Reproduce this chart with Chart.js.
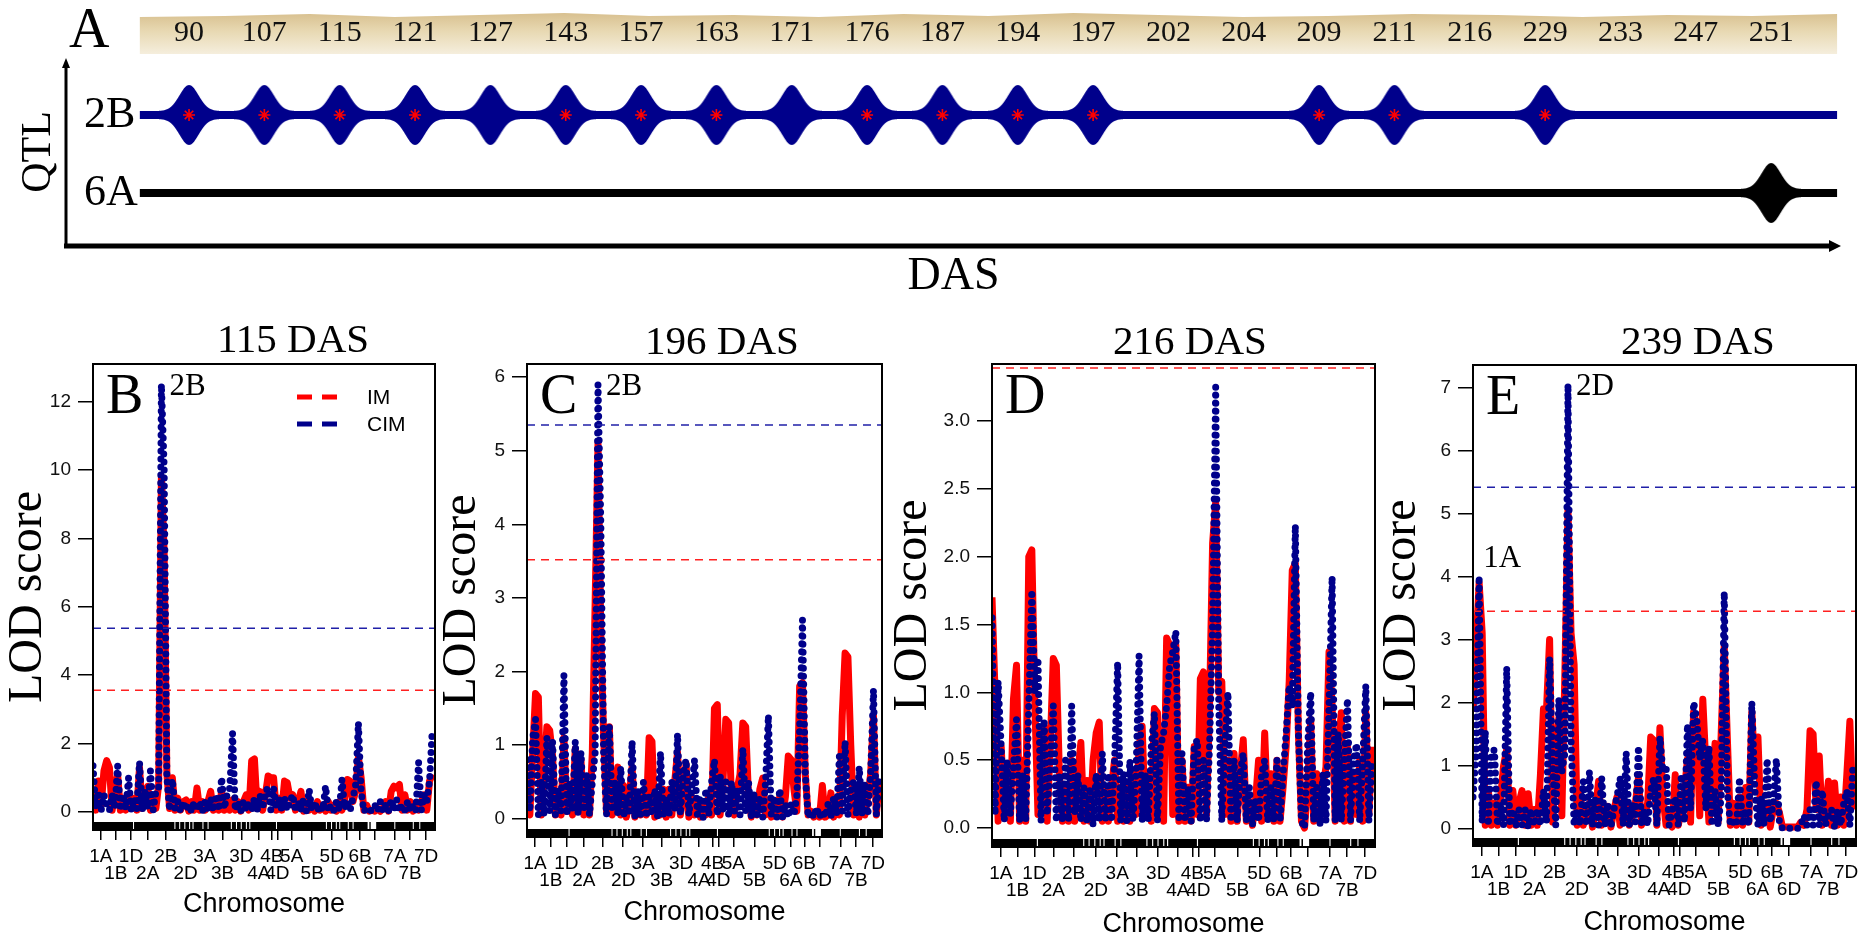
<!DOCTYPE html>
<html>
<head>
<meta charset="utf-8">
<title>QTL for 2B and 6A across DAS, with LOD profiles</title>
<script src="https://cdn.jsdelivr.net/npm/chart.js@4.4.1/dist/chart.umd.min.js"></script>
<style>
  html, body { margin: 0; padding: 0; background: #fff; overflow: hidden; }
  body { width: 1872px; height: 938px; position: relative; }
  canvas { position: absolute; }
</style>
</head>
<body>
<canvas id="panelA" width="1872" height="300" style="left:0px;top:0px"></canvas>
<canvas id="panelB" width="586" height="638" style="left:0px;top:300px"></canvas>
<canvas id="panelC" width="576" height="638" style="left:434px;top:300px"></canvas>
<canvas id="panelD" width="612" height="638" style="left:884px;top:300px"></canvas>
<canvas id="panelE" width="650" height="638" style="left:1373px;top:300px"></canvas>
<script>
const serif = '"Liberation Serif", "Times New Roman", serif';
const sans = '"Liberation Sans", Arial, sans-serif';

// panel A: days after sowing, and where each QTL was picked up
const dasLabels = [90, 107, 115, 121, 127, 143, 157, 163, 171, 176, 187, 194, 197, 202, 204, 209, 211, 216, 229, 233, 247, 251];
const qtl2B  = [1,1,1,1,1,1,1,1,1,1,1,1,1,0,0,1,1,0,1,0,0,0];
const star2B = [1,1,1,1,0,1,1,1,0,1,1,1,1,0,0,1,1,0,1,0,0,0];
const qtl6A  = [0,0,0,0,0,0,0,0,0,0,0,0,0,0,0,0,0,0,0,0,0,1];
const trackStart = -0.653;
const trackEnd = 21.875;

// chromosome axis of the LOD plots (genome position 0-1000)
const chromNames = ['1A','1B','1D','2A','2B','2D','3A','3B','3D','4A','4B','4D','5A','5B','5D','6A','6B','6D','7A','7B','7D'];
const chromMid = [23, 67, 111, 160, 213, 271, 327, 379, 434, 485, 523, 539, 581, 641, 698, 743, 781, 825, 883, 927, 974];
const markerPos = [0,8,16,24,32,40,48,56,64,72,80,88,96,104,112,120,128,136,144,152,160,168,176,184,192,200,208,216,224,232,
  240,248,256,264,272,280,288,296,304,312,320,328,336,344,352,360,368,376,384,392,400,408,416,424,432,440,448,456,464,472,
  480,488,496,504,512,520,528,536,544,552,560,568,576,584,592,600,608,616,624,632,640,648,656,664,672,680,688,696,704,712,
  720,728,736,744,752,760,768,776,784,792,800,808,816,824,832,840,848,856,864,872,880,888,896,904,912,920,928,936,944,952,
  960,968,976,984,992];
// white gaps in the marker rug
const rugGaps = [[117,120],[238,241],[252,255],[267,270],[281,284],[291,294],[320,323],[335,338],[403,406],[418,421],
  [432,435],[447,450],[457,460],[535,538],[681,684],[696,699],[710,713],[720,723],[745,748],[759,762],[803,808],[812,828],
  [881,884],[935,938],[954,957]];

// LOD scores, IM and CIM, one array per panel (one value per marker position)
const imB = [0.5,0.05,0.9,0.2,1.2,1.5,1.3,0.05,0.6,1.1, 0.05,0.4,0.05,0.5,0.1,0.4,0.05,1.3,0.1,0.5,
  0.75,0.05,0.4,0.1,0.8,9.8,7.6,1.1,0.1,1.0, 0.05,0.4,0.05,0.3,0.35,0.02,0.3,0.05,0.7,0.05,
  0.3,0.05,0.3,0.6,0.05,0.3,0.05,0.6,0.05,0.3, 0.05,0.35,0.05,0.3,0.02,0.3,0.5,0.05,1.5,1.55,
  0.1,0.6,0.05,0.5,1.05,1.0,1.0,0.05,0.4,0.05, 0.9,0.85,0.4,0.5,0.05,0.3,0.6,0.02,0.3,0.05,
  0.2,0.02,0.3,0.05,0.2,0.02,0.3,0.05,0.2,0.02, 0.3,0.05,0.35,0.95,0.9,0.3,0.6,1.6,1.0,0.05,
  0.2,0.02,0.05,0.02,0.1,0.02,0.1,0.3,0.02,0.6, 0.75,0.7,0.8,0.05,0.5,0.05,0.3,0.02,0.2,0.05,
  0.3,0.5,0.05,0.9,1.1];
const cimB = [1.35,0.1,0.6,0.05,0.5,0.2,0.05,0.5,0.1,1.35, 0.05,0.5,0.1,1.0,0.05,0.4,0.1,1.45,0.05,0.6,
  0.1,1.2,0.05,0.6,0.7,12.5,10.1,1.0,0.05,0.95, 0.1,0.3,0.02,0.3,0.05,0.2,0.02,0.3,0.05,0.3,
  0.02,0.3,0.05,0.4,0.02,0.5,0.05,1.0,0.1,0.5, 0.7,2.3,0.05,0.3,0.02,0.3,0.05,0.3,0.02,0.4,
  0.05,0.5,0.1,0.6,0.7,0.05,0.7,0.1,0.4,0.05, 0.4,0.05,0.3,0.5,0.02,0.3,0.05,0.4,0.02,0.65,
  0.05,0.3,0.02,0.2,0.05,0.75,0.02,0.2,0.05,0.3, 0.05,0.95,0.1,0.3,0.05,0.4,0.8,2.6,0.6,0.02,
  0.1,0.02,0.05,0.2,0.02,0.3,0.02,0.2,0.02,0.35, 0.05,0.35,0.02,0.2,0.05,0.3,0.02,0.2,0.05,1.45,
  0.05,0.5,0.3,0.9,2.4];
const imC = [0.5,0.05,0.9,1.7,1.65,0.05,0.6,1.25,1.2,0.85, 0.05,0.3,0.05,1.1,0.1,0.4,0.05,0.95,0.1,0.8,
  0.05,0.5,0.05,0.9,2.95,5.1,2.5,1.1,0.1,1.25, 0.05,0.4,0.7,0.05,0.45,0.02,0.3,0.7,0.02,0.3,
  0.05,0.3,0.05,1.1,1.05,0.02,0.3,0.05,0.4,0.02, 0.4,0.05,0.5,0.9,0.05,0.3,0.75,0.02,0.3,0.05,
  0.2,0.02,0.2,0.05,0.3,0.05,1.5,1.55,0.05,0.5, 1.35,1.3,0.3,0.05,0.4,0.6,1.3,1.25,0.3,0.02,
  0.3,0.05,0.4,0.55,0.05,0.2,0.02,0.25,0.05,0.3, 0.02,0.3,0.85,0.8,0.4,0.1,1.8,1.85,0.6,0.05,
  0.1,0.02,0.1,0.02,0.45,0.02,0.05,0.35,0.02,0.2, 0.05,1.4,2.25,2.2,1.0,0.05,0.3,0.02,0.4,0.05,
  0.3,0.6,1.4,0.05,0.5];
const cimC = [0.8,0.1,1.1,1.35,0.05,0.5,0.05,1.1,0.1,1.05, 0.05,0.4,0.1,1.95,0.05,0.5,0.1,1.05,0.05,0.9,
  0.1,0.6,0.05,0.5,0.9,5.9,4.0,0.8,0.05,1.25, 0.1,0.5,0.05,0.7,0.02,0.3,0.05,1.05,0.02,0.4,
  0.05,0.5,0.02,0.3,0.05,0.4,0.02,0.9,0.05,0.3, 0.05,0.5,0.1,1.15,0.05,0.6,0.8,0.05,0.4,0.8,
  0.05,0.3,0.02,0.4,0.05,0.5,0.8,0.05,0.6,0.1, 0.5,0.05,0.5,0.1,0.4,0.05,0.95,0.1,0.5,0.02,
  0.35,0.05,0.3,0.02,0.5,1.4,0.05,0.3,0.02,0.4, 0.02,0.2,0.02,0.2,0.05,0.3,1.2,2.7,0.6,0.02,
  0.1,0.02,0.15,0.02,0.1,0.02,0.2,0.02,0.3,0.05, 0.85,0.1,1.05,0.05,0.4,0.5,0.05,0.7,0.05,0.5,
  0.05,0.6,1.75,0.05,0.6];
const imD = [1.7,1.0,0.05,0.6,0.1,0.4,0.05,0.95,1.2,0.05, 0.5,0.05,2.0,2.05,0.9,0.1,0.7,0.75,0.05,0.6,
  1.25,1.2,0.4,0.05,0.3,0.05,0.5,0.05,0.4,0.63, 0.05,0.35,0.05,0.5,0.7,0.78,0.05,0.3,0.05,0.3,
  0.5,0.05,0.3,0.05,0.3,0.05,0.4,0.1,0.6,0.75, 0.1,0.4,0.05,0.88,0.85,0.3,0.05,1.4,1.35,0.1,
  1.35,0.05,0.5,0.05,0.3,0.05,0.6,0.1,1.1,1.15, 0.1,0.9,2.1,2.4,1.0,1.08,0.1,0.5,0.05,0.55,
  0.05,0.4,0.65,0.05,0.2,0.02,0.2,0.5,0.05,0.7, 0.1,0.4,0.05,0.5,0.05,0.3,0.6,1.08,1.9,1.95,
  0.7,0.05,0.0,0.3,0.8,0.05,0.4,0.05,0.3,0.45, 1.3,0.9,0.05,0.6,0.85,0.05,0.6,0.05,0.4,0.1,
  0.5,0.05,0.85,0.1,0.6];
const cimD = [1.55,0.1,1.08,0.6,0.05,0.5,0.1,0.45,0.8,0.05, 0.4,0.05,0.9,1.75,1.0,1.25,0.05,0.8,0.1,0.5,
  0.9,0.05,0.4,0.05,0.5,0.05,0.9,0.1,0.4,0.05, 0.3,0.05,0.3,0.02,0.4,0.05,0.55,0.05,0.4,0.05,
  0.5,1.22,0.05,0.4,0.05,0.5,0.05,0.4,1.27,0.05, 0.4,0.05,0.6,0.85,0.05,0.6,0.7,0.9,1.2,1.3,
  1.45,0.05,0.55,0.05,0.3,0.05,0.6,0.65,0.05,0.5, 0.05,0.6,1.5,3.25,0.9,0.05,0.6,1.0,0.05,0.5,
  0.05,0.4,0.55,0.05,0.3,0.02,0.2,0.05,0.4,0.5, 0.05,0.3,0.05,0.5,0.05,0.4,0.7,1.05,0.9,2.23,
  0.7,0.05,0.0,0.6,1.0,0.05,0.3,0.02,0.4,0.05, 0.9,1.85,0.05,0.7,0.05,0.5,0.95,0.05,0.5,0.62,
  0.05,0.5,1.05,0.05,0.5];
const imE = [1.85,2.9,3.9,3.1,0.05,0.6,0.05,0.4,0.05,0.5, 1.0,1.25,0.05,0.6,0.05,0.4,0.6,0.05,0.55,0.05,
  0.3,0.05,0.85,1.9,1.9,3.0,0.1,1.2,1.75,0.2, 2.5,5.05,3.1,2.6,0.05,0.6,0.05,0.3,0.4,0.02,
  0.3,0.75,0.05,0.2,0.35,0.02,0.3,0.5,0.05,0.2, 0.4,0.05,0.2,0.4,0.8,0.05,0.2,0.4,1.45,1.4,
  0.05,1.6,0.5,0.05,0.2,0.02,0.85,0.05,0.3,0.6, 1.1,0.1,1.85,1.6,0.2,2.05,1.0,0.1,0.5,1.35,
  0.1,1.5,2.9,1.45,0.05,0.4,0.05,0.5,0.05,0.65, 0.1,1.85,0.9,1.45,0.05,0.3,0.4,0.02,0.3,0.4,
  0.25,0.02,0.02,0.02,0.02,0.02,0.02,0.1,0.05,0.3, 1.55,1.5,0.3,1.15,0.05,0.3,0.75,0.05,0.72,0.05,
  0.5,0.05,0.85,1.7,0.3];
const cimE = [0.5,1.2,4.0,0.1,1.55,0.05,1.2,1.25,0.05,0.4, 0.05,2.55,0.05,0.3,0.02,0.3,0.05,0.3,0.02,0.3,
  0.05,0.3,0.05,0.6,0.1,2.7,1.0,0.05,2.05,0.9, 1.2,7.05,1.4,0.05,0.3,0.05,0.75,0.05,0.9,0.05,
  0.5,0.05,0.8,0.05,0.4,0.02,0.3,0.5,0.8,0.05, 1.2,0.05,0.4,0.1,1.3,0.05,0.3,0.05,0.6,0.8,
  0.05,1.45,0.9,1.0,0.05,0.3,0.5,0.05,0.85,0.1, 1.65,0.3,2.0,1.75,1.1,1.4,0.3,1.3,0.05,0.6,
  0.05,0.5,3.75,0.6,0.05,0.1,0.05,0.8,0.05,0.3, 0.05,2.0,0.6,0.05,0.5,0.05,1.1,0.1,0.4,1.1,
  0.1,0.0,0.0,0.0,0.0,0.0,0.0,0.05,0.2,0.05, 0.3,0.05,0.75,0.05,0.6,0.05,0.2,0.3,0.02,0.3,
  0.05,0.4,0.6,0.05,1.0];

const panelTitles = ['115 DAS', '196 DAS', '216 DAS', '239 DAS'];
const panelLetters = ['B', 'C', 'D', 'E'];
const thresholdIM = [3.56, 3.52, 3.39, 3.45];
const thresholdCIM = [5.37, 5.35, null, 5.42];
const peakTags = [
  [{text: '2B', x: 200, y: 12.5, side: 'right'}],
  [{text: '2B', x: 200, y: 5.9, side: 'right'}],
  [],
  [{text: '2D', x: 248, y: 7.05, side: 'right'}, {text: '1A', x: 16, y: 4.0, side: 'above'}]
];

const IM_RED = '#ff0000';
const CIM_BLUE = '#00008b';

// frame, panel letter, peak labels and the small IM/CIM key
const panelDeco = {
  id: 'panelDeco',
  afterDraw(chart, args, opts) {
    const {ctx, chartArea: a} = chart;
    const xs = chart.scales.x, ys = chart.scales.y;
    ctx.save();
    ctx.strokeStyle = '#000';
    ctx.lineWidth = 2;
    ctx.strokeRect(a.left, a.top, a.right - a.left, a.bottom - a.top);
    ctx.fillStyle = '#000';
    ctx.textAlign = 'left';
    ctx.textBaseline = 'alphabetic';
    ctx.font = '56px ' + serif;
    ctx.fillText(opts.letter, a.left + 13, a.top + 49);
    ctx.font = '31px ' + serif;
    ctx.textBaseline = 'middle';
    (opts.tags || []).forEach(t => {
      const px = xs.getPixelForValue(t.x), py = ys.getPixelForValue(t.y);
      if (t.side === 'above') ctx.fillText(t.text, px + 4, py - 18);
      else ctx.fillText(t.text, px + 8, py + 2);
    });
    if (opts.legend) {
      const keys = chart.data.datasets.filter(d => d.label === 'IM' || d.label === 'CIM');
      ctx.font = '21px ' + sans;
      keys.forEach((d, k) => {
        const yy = a.top + 33 + k * 27, x0 = a.right - 138;
        ctx.strokeStyle = d.borderColor;
        ctx.lineWidth = 5;
        ctx.setLineDash([15, 10]);
        ctx.beginPath();
        ctx.moveTo(x0, yy);
        ctx.lineTo(x0 + 40, yy);
        ctx.stroke();
        ctx.setLineDash([]);
        ctx.fillText(d.label, x0 + 70, yy + 1);
      });
    }
    ctx.restore();
  }
};

function rugPoints(level) {
  const pts = [{x: 0, y: level}];
  rugGaps.forEach(([a, b]) => {
    pts.push({x: a, y: level}, {x: (a + b) / 2, y: null}, {x: b, y: level});
  });
  pts.push({x: 1000, y: level});
  return pts;
}

const panelLayout = [
  {canvas: 'panelB', yAxisW: 93,  padR: 151, titleTop: 21, titleBottom: 2, xAxisH: 108, xTitlePad: 20, yTitlePad: 4, yMin: -0.53, yMax: 13.1, yTicks: [0,2,4,6,8,10,12], decimals: 0},
  {canvas: 'panelC', yAxisW: 93,  padR: 128, titleTop: 23, titleBottom: 0, xAxisH: 101, xTitlePad: 12, yTitlePad: 4, yMin: -0.25, yMax: 6.18, yTicks: [0,1,2,3,4,5,6], decimals: 0},
  {canvas: 'panelD', yAxisW: 108, padR: 121, titleTop: 23, titleBottom: 0, xAxisH: 91,  xTitlePad: 0,  yTitlePad: 5, yMin: -0.14, yMax: 3.42, yTicks: [0,0.5,1,1.5,2,2.5,3], decimals: 1},
  {canvas: 'panelE', yAxisW: 100, padR: 167, titleTop: 23, titleBottom: 1, xAxisH: 92,  xTitlePad: 2,  yTitlePad: 5, yMin: -0.28, yMax: 7.36, yTicks: [0,1,2,3,4,5,6,7], decimals: 0}
];
const imSeries = [imB, imC, imD, imE];
const cimSeries = [cimB, cimC, cimD, cimE];

panelLayout.forEach((L, p) => {
  const toPts = vals => markerPos.map((x, i) => ({x: x, y: vals[i]}));
  const datasets = [
    {label: 'rug', data: rugPoints(L.yMin), borderColor: '#000', borderWidth: 16, borderCapStyle: 'butt',
     pointRadius: 0, spanGaps: false, clip: 0, order: 5},
    {label: 'IM', data: toPts(imSeries[p]), borderColor: IM_RED, borderWidth: 7, pointRadius: 0,
     borderJoinStyle: 'round', order: 4},
    {label: 'CIM', data: toPts(cimSeries[p]), borderColor: CIM_BLUE, borderWidth: 7, borderDash: [0, 8],
     borderCapStyle: 'round', pointRadius: 0, order: 3}
  ];
  if (thresholdCIM[p] !== null) {
    datasets.push({label: 'CIM threshold', data: [{x: 0, y: thresholdCIM[p]}, {x: 1000, y: thresholdCIM[p]}],
      borderColor: '#2020a8', borderWidth: 1.5, borderDash: [8, 6], pointRadius: 0, order: 1});
  }
  datasets.push({label: 'IM threshold', data: [{x: 0, y: thresholdIM[p]}, {x: 1000, y: thresholdIM[p]}],
    borderColor: '#ff2020', borderWidth: 1.5, borderDash: [8, 6], pointRadius: 0, order: 1});

  new Chart(document.getElementById(L.canvas), {
    type: 'line',
    data: {datasets: datasets},
    plugins: [panelDeco],
    options: {
      responsive: false,
      animation: false,
      events: [],
      layout: {padding: 0},
      plugins: {
        legend: {display: false},
        tooltip: {enabled: false},
        title: {display: true, text: panelTitles[p], color: '#000',
          font: {family: serif, size: 41, weight: 'normal', lineHeight: 1},
          padding: {top: L.titleTop, bottom: L.titleBottom}},
        panelDeco: {letter: panelLetters[p], tags: peakTags[p], legend: p === 0}
      },
      scales: {
        x: {
          type: 'linear', min: 0, max: 1000,
          afterFit: s => { s.height = L.xAxisH; },
          afterBuildTicks: s => { s.ticks = chromMid.map(v => ({value: v})); },
          ticks: {autoSkip: false, maxRotation: 0, minRotation: 0, padding: 8, color: '#000',
            font: {family: sans, size: 19, lineHeight: 0.9},
            callback: (v, i) => (i % 2 ? ['', chromNames[i]] : chromNames[i])},
          grid: {drawOnChartArea: false, drawTicks: true, tickLength: 10, color: '#000', lineWidth: 1.5},
          border: {display: false},
          title: {display: true, text: 'Chromosome', color: '#000',
            font: {family: sans, size: 27, lineHeight: 1}, padding: {top: 0, bottom: L.xTitlePad}}
        },
        y: {
          type: 'linear', min: L.yMin, max: L.yMax,
          afterFit: s => { s.width = L.yAxisW; },
          afterBuildTicks: s => { s.ticks = L.yTicks.map(v => ({value: v})); },
          ticks: {padding: 7, color: '#111', font: {family: sans, size: 19},
            callback: v => v.toFixed(L.decimals)},
          grid: {drawOnChartArea: false, drawTicks: true, tickLength: 15, color: '#000', lineWidth: 1.5},
          border: {display: false},
          title: {display: true, text: 'LOD score', color: '#000',
            font: {family: serif, size: 48, lineHeight: 1}, padding: {top: L.yTitlePad, bottom: 0}}
        },
        // empty right-hand spacer so the panel title centres where the original one sits
        spacer: {
          type: 'linear', position: 'right', display: true,
          afterFit: s => { s.width = L.padR; },
          ticks: {display: false}, grid: {display: false}, border: {display: false}
        }
      }
    }
  });
});

// ---------- panel A ----------
function spindle(color) {
  const c = document.createElement('canvas');
  c.width = 60; c.height = 64;
  const g = c.getContext('2d');
  const cx = 30, cy = 32, h = 30, s = 9.5, half = 4;
  g.fillStyle = color;
  g.beginPath();
  for (let px = 0; px <= 60; px++) {
    const dx = px - cx;
    g.lineTo(px, cy - half - (h - half) * Math.exp(-dx * dx / (2 * s * s)));
  }
  for (let px = 60; px >= 0; px--) {
    const dx = px - cx;
    g.lineTo(px, cy + half + (h - half) * Math.exp(-dx * dx / (2 * s * s)));
  }
  g.closePath();
  g.fill();
  return c;
}

const dasBand = {
  id: 'dasBand',
  beforeDraw(chart) {
    const {ctx, chartArea: a} = chart;
    const xs = chart.scales.x;
    const left = xs.getPixelForValue(trackStart), right = xs.getPixelForValue(trackEnd);
    const top = a.top - 45, bottom = a.top - 4;
    ctx.save();
    const grad = ctx.createLinearGradient(0, top, 0, bottom);
    grad.addColorStop(0, '#d8c08f');
    grad.addColorStop(0.45, '#e8d9b3');
    grad.addColorStop(1, '#f5eedd');
    ctx.fillStyle = grad;
    ctx.beginPath();
    ctx.moveTo(left, bottom);
    ctx.lineTo(left, top + 4);
    const wave = [3, 1, 4, 2, 0, 3, 2, 4, 1, 3, 0, 2, 4, 3, 1, 2, 4, 2, 3, 1];
    wave.forEach((w, k) => ctx.lineTo(left + (right - left) * (k + 1) / wave.length, top + w));
    ctx.lineTo(right, bottom);
    ctx.closePath();
    ctx.fill();
    ctx.restore();
  },
  afterDraw(chart) {
    const {ctx, chartArea: a} = chart;
    ctx.save();
    ctx.strokeStyle = '#000';
    ctx.fillStyle = '#000';
    // y axis with arrow
    ctx.lineWidth = 3;
    ctx.beginPath();
    ctx.moveTo(a.left, a.bottom + 2);
    ctx.lineTo(a.left, a.top + 6);
    ctx.stroke();
    ctx.beginPath();
    ctx.moveTo(a.left, a.top);
    ctx.lineTo(a.left - 4, a.top + 10);
    ctx.lineTo(a.left + 4, a.top + 10);
    ctx.closePath();
    ctx.fill();
    // x axis with arrow
    ctx.lineWidth = 5;
    ctx.beginPath();
    ctx.moveTo(a.left - 2, a.bottom);
    ctx.lineTo(a.right - 8, a.bottom);
    ctx.stroke();
    ctx.beginPath();
    ctx.moveTo(a.right, a.bottom);
    ctx.lineTo(a.right - 12, a.bottom - 6);
    ctx.lineTo(a.right - 12, a.bottom + 6);
    ctx.closePath();
    ctx.fill();
    // panel letter
    ctx.font = '56px ' + serif;
    ctx.textBaseline = 'alphabetic';
    ctx.fillText('A', a.left + 3, a.top - 11);
    ctx.restore();
  }
};

const spindle2B = spindle(CIM_BLUE);
const spindle6A = spindle('#000');

new Chart(document.getElementById('panelA'), {
  type: 'line',
  data: {
    datasets: [
      {label: 'significant', data: dasLabels.map((d, i) => (star2B[i] ? {x: i, y: 2} : null)).filter(Boolean),
        showLine: false, pointStyle: 'star', pointRadius: 6, pointBorderWidth: 1.6,
        pointBorderColor: IM_RED, borderColor: IM_RED, order: 1},
      {label: '2B QTL', data: dasLabels.map((d, i) => (qtl2B[i] ? {x: i, y: 2} : null)).filter(Boolean),
        showLine: false, pointStyle: spindle2B, pointRadius: 30, order: 2},
      {label: '6A QTL', data: dasLabels.map((d, i) => (qtl6A[i] ? {x: i, y: 1} : null)).filter(Boolean),
        showLine: false, pointStyle: spindle6A, pointRadius: 30, order: 2},
      {label: '2B', data: [{x: trackStart, y: 2}, {x: trackEnd, y: 2}], borderColor: CIM_BLUE,
        borderWidth: 8, pointRadius: 0, borderCapStyle: 'butt', order: 3},
      {label: '6A', data: [{x: trackStart, y: 1}, {x: trackEnd, y: 1}], borderColor: '#000',
        borderWidth: 8, pointRadius: 0, borderCapStyle: 'butt', order: 3}
    ]
  },
  plugins: [dasBand],
  options: {
    responsive: false,
    animation: false,
    events: [],
    layout: {padding: {left: 0, right: 2, top: 0, bottom: 0}},
    plugins: {legend: {display: false}, tooltip: {enabled: false}},
    scales: {
      x: {
        type: 'linear', position: 'bottom', min: -1.633, max: 21.927,
        afterFit: s => { s.height = 54; },
        ticks: {display: false},
        grid: {display: false},
        border: {display: false},
        title: {display: true, text: 'DAS', color: '#000',
          font: {family: serif, size: 46, lineHeight: 1}, padding: {top: 0, bottom: 0}}
      },
      xTop: {
        type: 'linear', position: 'top', min: -1.633, max: 21.927,
        afterFit: s => { s.height = 58; },
        afterBuildTicks: s => { s.ticks = dasLabels.map((d, i) => ({value: i})); },
        ticks: {autoSkip: false, maxRotation: 0, minRotation: 0, padding: 7, color: '#111',
          font: {family: serif, size: 30}, callback: (v, i) => String(dasLabels[i])},
        grid: {display: false, drawTicks: false},
        border: {display: false}
      },
      y: {
        type: 'linear', min: 0.32, max: 2.73,
        afterFit: s => { s.width = 66; },
        afterBuildTicks: s => { s.ticks = [{value: 1}, {value: 2}]; },
        ticks: {mirror: true, padding: 18, color: '#000', font: {family: serif, size: 44},
          callback: v => (v === 2 ? '2B' : '6A')},
        grid: {display: false, drawTicks: false},
        border: {display: false},
        title: {display: true, text: 'QTL', color: '#000',
          font: {family: serif, size: 42, lineHeight: 1}, padding: {top: 18, bottom: 0}}
      }
    }
  }
});
</script>
</body>
</html>
